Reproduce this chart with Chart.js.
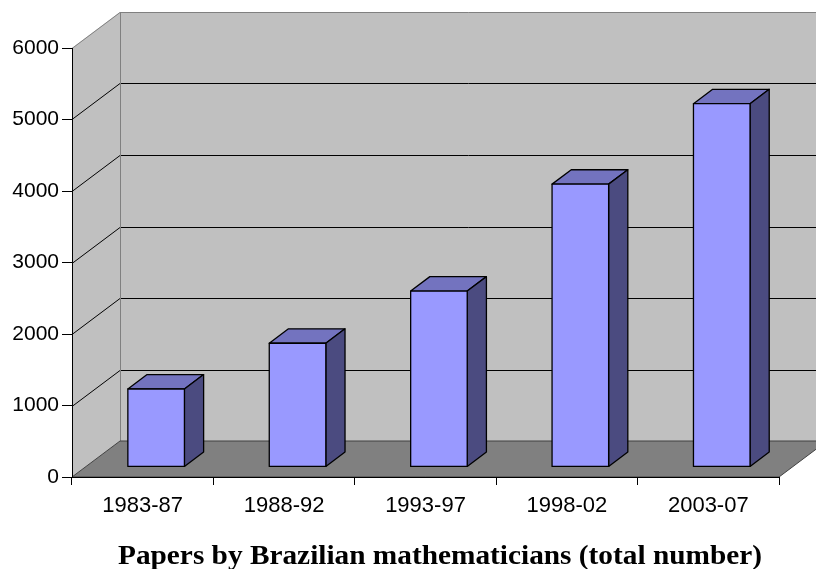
<!DOCTYPE html>
<html>
<head>
<meta charset="utf-8">
<script src="https://cdn.jsdelivr.net/npm/chart.js@4.4.0/dist/chart.umd.min.js"></script>
<style>
  body { margin: 0; background: #fff; }
  #wrap { position: relative; width: 816px; height: 569px; overflow: hidden; }
  #title {
    position: absolute; left: 118px; top: 540px; line-height: 1;
    font: bold 27px "Liberation Serif", serif; color: #000;
    white-space: nowrap; transform-origin: 0 0;
  }
</style>
</head>
<body>
<div id="wrap">
  <canvas id="papersChart" width="816" height="569"></canvas>
  <div id="title">Papers by Brazilian mathematicians (total number)</div>
</div>
<script>
// donnees
var periods = ['1983-87', '1988-92', '1993-97', '1998-02', '2003-07'];
var papers = [1090, 1730, 2460, 3955, 5080];
var yTicks = [0, 1000, 2000, 3000, 4000, 5000, 6000];

// profondeur de la "3D" (decalage vers l'arriere)
var DX = 48, DY = -36;
var F0 = 0.28, F1 = 0.68;

var walls3d = {
  id: 'walls3d',
  beforeDraw: function (chart) {
    var ctx = chart.ctx;
    var ys = chart.scales.y;
    var a = chart.chartArea;
    var L = a.left, R = a.right;
    var T = ys.getPixelForValue(yTicks[yTicks.length - 1]);
    var B = ys.getPixelForValue(0);
    ctx.save();
    ctx.lineWidth = 1;
    // mur gauche
    ctx.fillStyle = '#c0c0c0';
    ctx.beginPath();
    ctx.moveTo(L, T); ctx.lineTo(L + DX, T + DY); ctx.lineTo(L + DX, B + DY); ctx.lineTo(L, B);
    ctx.closePath(); ctx.fill();
    // mur du fond
    ctx.fillRect(L + DX, T + DY, R - L, B - T);
    // lignes de grille
    ctx.strokeStyle = '#000';
    yTicks.forEach(function (v) {
      if (v === 0 || v === yTicks[yTicks.length - 1]) return;
      var y = Math.round(ys.getPixelForValue(v)) + 0.5;
      ctx.beginPath();
      ctx.moveTo(L, y); ctx.lineTo(L + DX, y + DY); ctx.lineTo(R + DX, y + DY);
      ctx.stroke();
    });
    // bords du haut et arete verticale
    ctx.strokeStyle = '#808080';
    ctx.beginPath();
    ctx.moveTo(L, T + 0.5); ctx.lineTo(L + DX, T + DY + 0.5); ctx.lineTo(R + DX, T + DY + 0.5);
    ctx.moveTo(L + DX + 0.5, T + DY); ctx.lineTo(L + DX + 0.5, B + DY);
    ctx.stroke();
    // plancher
    ctx.fillStyle = '#808080';
    ctx.beginPath();
    ctx.moveTo(L, B); ctx.lineTo(R, B); ctx.lineTo(R + DX, B + DY); ctx.lineTo(L + DX, B + DY);
    ctx.closePath(); ctx.fill();
    ctx.strokeStyle = '#404040';
    ctx.stroke();
    ctx.restore();
  },
  afterDatasetsDraw: function (chart) {
    var ctx = chart.ctx;
    var meta = chart.getDatasetMeta(0);
    var ox = DX * F0, oy = DY * F0;
    var bx = DX * (F1 - F0), by = DY * (F1 - F0);
    ctx.save();
    ctx.lineWidth = 1.3;
    ctx.strokeStyle = '#000';
    ctx.lineJoin = 'round';
    meta.data.forEach(function (bar) {
      var p = bar.getProps(['x', 'y', 'base', 'width'], true);
      var l = p.x - p.width / 2 + ox, r = p.x + p.width / 2 + ox;
      var t = p.y + oy, b = p.base + oy;
      // dessus
      ctx.fillStyle = '#7373bf';
      ctx.beginPath();
      ctx.moveTo(l, t); ctx.lineTo(l + bx, t + by); ctx.lineTo(r + bx, t + by); ctx.lineTo(r, t);
      ctx.closePath(); ctx.fill(); ctx.stroke();
      // cote
      ctx.fillStyle = '#4b4b80';
      ctx.beginPath();
      ctx.moveTo(r, t); ctx.lineTo(r + bx, t + by); ctx.lineTo(r + bx, b + by); ctx.lineTo(r, b);
      ctx.closePath(); ctx.fill(); ctx.stroke();
      // face avant
      ctx.fillStyle = '#9999ff';
      ctx.fillRect(l, t, r - l, b - t);
      ctx.strokeRect(l, t, r - l, b - t);
    });
    ctx.restore();
  }
};

var ctx = document.getElementById('papersChart').getContext('2d');
var papersChart = new Chart(ctx, {
  type: 'bar',
  data: {
    labels: periods,
    datasets: [{
      data: papers,
      backgroundColor: 'rgba(0,0,0,0)',
      borderWidth: 0,
      barPercentage: 0.4,
      categoryPercentage: 1
    }]
  },
  options: {
    responsive: false,
    animation: false,
    devicePixelRatio: 1,
    layout: { padding: { top: 48, right: 37, left: 0, bottom: 0 } },
    plugins: { legend: { display: false }, tooltip: { enabled: false }, title: { display: false } },
    scales: {
      x: {
        grid: { offset: true, drawOnChartArea: false, tickLength: 8, tickColor: '#000' },
        border: { color: '#000', width: 1 },
        ticks: { color: '#000', padding: 8, font: { family: 'Liberation Sans', size: 22 } },
        afterFit: function (scale) { scale.height = 92; }
      },
      y: {
        min: 0, max: 6000,
        grid: { drawOnChartArea: false, tickLength: 10, tickColor: '#000' },
        border: { color: '#000', width: 1 },
        ticks: {
          stepSize: 1000, color: '#000', padding: 3,
          font: { family: 'Liberation Sans', size: 21 },
          callback: function (v) { return String(v); }
        },
        afterFit: function (scale) { scale.width = 72; }
      }
    }
  },
  plugins: [walls3d]
});

// titre: ajuster la largeur comme dans l'original
var title = document.getElementById('title');
var w = title.getBoundingClientRect().width;
title.style.transform = 'scaleX(' + (644 / w) + ')';
</script>
</body>
</html>
